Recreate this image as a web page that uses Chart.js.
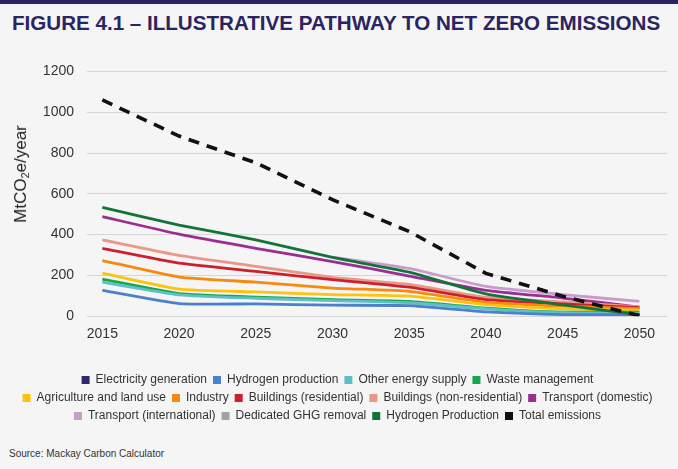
<!DOCTYPE html>
<html>
<head>
<meta charset="utf-8">
<script src="https://cdn.jsdelivr.net/npm/chart.js@4.4.1/dist/chart.umd.min.js"></script>
<style>
    body { margin: 0; background: #f5f5f5; }
    #page { position: relative; width: 678px; height: 469px; background: #f5f5f5; overflow: hidden; }
    #topbar { position: absolute; left: 0; top: 0; width: 678px; height: 4px; background: #2b2463; }
    #title { position: absolute; left: 12px; top: 11px; font-family: "Liberation Sans", sans-serif; font-weight: bold; font-size: 21px; color: #2b2463; white-space: nowrap; transform-origin: 0 0; }
    #chartBox { position: absolute; left: 0; top: 50px; width: 678px; height: 382px; }
    #ytitle { position: absolute; left: 21px; top: 174px; font-family: "Liberation Sans", sans-serif; font-size: 17px; color: #222; white-space: nowrap; transform: translate(-50%, -50%) rotate(-90deg); }
    #ytitle sub { font-size: 11px; vertical-align: -3px; line-height: 0; }
    #source { position: absolute; left: 9px; top: 448px; font-family: "Liberation Sans", sans-serif; font-size: 10px; color: #333; }
</style>
</head>
<body>
<div id="page">
    <div id="topbar"></div>
    <div id="title">FIGURE 4.1 – ILLUSTRATIVE PATHWAY TO NET ZERO EMISSIONS</div>
    <div id="chartBox"><canvas id="pathway"></canvas></div>
    <div id="ytitle">MtCO<sub>2</sub>e/year</div>
    <div id="source">Source: Mackay Carbon Calculator</div>
</div>
<script>
var years = [2015, 2020, 2025, 2030, 2035, 2040, 2045, 2050];

var electricityGeneration = [];
var hydrogenProduction = [127, 62, 60, 54, 52, 21, 8, 8];
var otherEnergySupply = [167, 105, 88, 76, 66, 36, 17, 15];
var wasteManagement = [182, 111, 94, 81, 72, 40, 20, 20];
var agriculture = [211, 133, 119, 106, 98, 57, 36, 28];
var industry = [273, 192, 167, 138, 122, 68, 49, 37];
var buildingsRes = [333, 260, 220, 179, 142, 81, 60, 42];
var buildingsNonRes = [374, 298, 244, 190, 156, 93, 70, 45];
var transportDomestic = [488, 402, 333, 268, 197, 127, 89, 45];
var transportIntl = [null, null, null, 290, 234, 146, 106, 73];
var ghgRemoval = [];
var hydrogenProduction2 = [533, 447, 374, 288, 216, 109, 55, 8];
var totalEmissions = [1060, 883, 752, 571, 415, 210, 98, 2];

// squeeze the title to the condensed width of the original
var title = document.getElementById('title');
title.style.transform = 'scaleX(' + (648 / title.offsetWidth) + ')';

function series(label, values, colour) {
    return {
        label: label,
        data: values.map(function (v, i) { return { x: years[i], y: v }; }),
        borderColor: colour,
        backgroundColor: colour,
        borderWidth: 2.8,
        pointRadius: 0,
        fill: false,
        tension: 0.15,
        spanGaps: false
    };
}

var datasets = [
    series("Electricity generation", electricityGeneration, "#2e2a6b"),
    series("Hydrogen production", hydrogenProduction, "#4a80cc"),
    series("Other energy supply", otherEnergySupply, "#5ec0c6"),
    series("Waste management", wasteManagement, "#17a84a"),
    series("Agriculture and land use", agriculture, "#ffc20e"),
    series("Industry", industry, "#f7890f"),
    series("Buildings (residential)", buildingsRes, "#cf1f2e"),
    series("Buildings (non-residential)", buildingsNonRes, "#e99888"),
    series("Transport (domestic)", transportDomestic, "#9a2f93"),
    series("Transport (international)", transportIntl, "#c99bcb"),
    series("Dedicated GHG removal", ghgRemoval, "#a3a3a3"),
    series("Hydrogen Production", hydrogenProduction2, "#13743a"),
    series("Total emissions", totalEmissions, "#111111")
];
datasets[12].borderDash = [11, 8];
datasets[12].borderWidth = 3.6;
datasets[12].tension = 0;
datasets[12].order = -2;
datasets[11].order = -1;

var ctx = document.getElementById('pathway').getContext('2d');
var chart = new Chart(ctx, {
    type: 'line',
    data: { datasets: datasets },
    options: {
        responsive: true,
        maintainAspectRatio: false,
        animation: false,
        layout: { padding: { top: 19, right: 11, left: 8, bottom: 0 } },
        plugins: {
            tooltip: { enabled: false },
            legend: {
                position: 'bottom',
                labels: {
                    boxWidth: 8,
                    boxHeight: 8,
                    padding: 6,
                    color: '#333',
                    font: { family: 'Liberation Sans', size: 12 },
                    sort: function (a, b) { return a.datasetIndex - b.datasetIndex; },
                    generateLabels: function (c) {
                        var items = Chart.defaults.plugins.legend.labels.generateLabels(c);
                        items.forEach(function (it) {
                            it.lineDash = [];
                            it.lineWidth = 0;
                            it.strokeStyle = it.fillStyle;
                        });
                        return items;
                    }
                }
            }
        },
        scales: {
            x: {
                type: 'linear',
                min: 2014,
                max: 2051.8,
                afterBuildTicks: function (axis) {
                    axis.ticks = years.map(function (y) { return { value: y }; });
                },
                afterFit: function (axis) { axis.height += 23; },
                grid: { display: false },
                border: { display: false },
                ticks: {
                    color: '#333',
                    padding: 2,
                    font: { family: 'Liberation Sans', size: 14 },
                    callback: function (v) { return String(v); }
                }
            },
            y: {
                min: 0,
                max: 1200,
                afterFit: function (axis) { axis.width = 79; },
                ticks: {
                    stepSize: 200,
                    color: '#333',
                    padding: 13,
                    font: { family: 'Liberation Sans', size: 14 },
                    callback: function (v) { return String(v); }
                },
                grid: { color: '#d6d6d6', lineWidth: 1, drawTicks: false },
                border: { display: false }
            }
        }
    }
});
</script>
</body>
</html>
